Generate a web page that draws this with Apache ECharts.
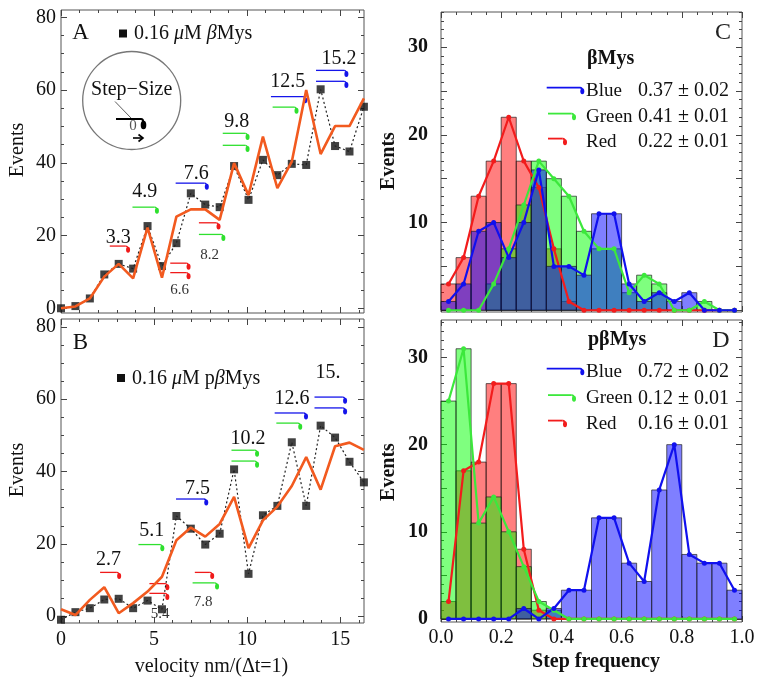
<!DOCTYPE html>
<html><head><meta charset="utf-8">
<script src="https://cdn.jsdelivr.net/npm/echarts@6/dist/echarts.min.js"></script>
<style>html,body{margin:0;padding:0;background:#fff}#c{width:759px;height:680px}</style>
</head><body><div id="c"></div><script>
// ---------- data ----------
const stepX = [0, 0.775, 1.55, 2.325, 3.1, 3.875, 4.65, 5.425, 6.2, 6.975, 7.75, 8.525, 9.3, 10.075, 10.85, 11.625, 12.4, 13.175, 13.95, 14.725, 15.5, 16.275];
const eventsA = [0, 0.6, 2.7, 9.3, 12.2, 10.9, 22.6, 11.6, 17.9, 31.6, 28.5, 27.8, 39.1, 29.8, 40.8, 36.6, 39.7, 39.4, 60.2, 44.6, 43.1, 55.4];
const fitA = [0, 0.5, 2.7, 8.7, 12.2, 8.2, 22.2, 8.4, 25.2, 27.2, 27.2, 24.3, 39.9, 31.1, 47.2, 33.0, 40.3, 60.0, 42.4, 50.1, 50.1, 57.7];
const eventsB = [-1.0, 1.1, 2.2, 4.6, 4.8, 2.2, 4.3, 1.9, 27.7, 24.2, 19.8, 22.8, 40.6, 11.7, 27.9, 30.5, 48.1, 30.5, 52.7, 49.4, 42.7, 37.0];
const fitB = [1.9, 0.3, 4.5, 8.0, 0.8, 3.6, 6.8, 10.9, 21.0, 24.5, 22.0, 25.5, 33.0, 18.8, 26.5, 30.3, 36.0, 44.0, 35.0, 47.0, 48.0, 46.0];

const binWidth = 0.05;
const binCenters = [0.025, 0.075, 0.125, 0.175, 0.225, 0.275, 0.325, 0.375, 0.425, 0.475, 0.525, 0.575, 0.625, 0.675, 0.725, 0.775, 0.825, 0.875, 0.925, 0.975];
const redC   = [3, 6, 13, 17, 22, 17, 14, 7, 1, 0, 0, 0, 0, 0, 0, 0, 0, 0, 0, 0];
const greenC = [0, 0, 0, 3, 7, 12, 17, 15, 13, 9, 7, 7, 2, 4, 3, 0, 0, 1, 0, 0];
const blueC  = [1, 3, 9, 10, 6, 10, 16, 5, 5, 4, 11, 11, 3, 1, 2, 1, 2, 0, 0, 0];
const redD   = [2, 17, 18, 27, 27, 8, 1, 0, 0, 0, 0, 0, 0, 0, 0, 0, 0, 0, 0, 0];
const greenD = [25, 31, 11, 14, 10, 6, 2, 1, 0, 0, 0, 0, 0, 0, 0, 0, 0, 0, 0, 0];
const blueD  = [0, 0, 0, 0, 0, 1.2, 0, 1.2, 3.3, 3.3, 11.6, 11.6, 6.4, 4.3, 14.8, 20, 7.4, 6.4, 6.4, 3.3];

// step markers [xStart, xEnd, y, colour]
const hooksA = [[2.62,3.48,17.1,'r'],[3.84,5.03,27.8,'g'],[5.87,6.73,12.4,'r'],[5.87,6.73,9.8,'r'],
  [6.16,7.71,34.4,'b'],[7.41,8.34,23.5,'r'],[7.41,8.6,20.3,'g'],[8.69,9.9,48.1,'g'],[8.69,9.9,44.8,'g'],
  [11.28,13.0,58.2,'b'],[11.37,12.53,55.3,'g'],[13.7,15.21,65.4,'b'],[13.7,15.21,62.4,'b']];
const hooksB = [[2.1,3.0,12.1,'r'],[4.16,5.32,19.8,'g'],[4.75,5.59,9.0,'r'],[4.75,5.59,6.3,'r'],
  [6.18,7.68,32.4,'b'],[7.19,8.0,12.1,'r'],[7.07,8.26,9.2,'g'],[9.16,10.41,45.9,'g'],[9.16,10.41,42.9,'g'],
  [11.48,13.04,56.2,'b'],[11.57,12.73,53.4,'g'],[13.62,15.14,60.6,'b'],[13.62,15.14,57.6,'b']];
// step labels [text, x, y, large?]
const stepLabelsA = [['3.3',3.07,19.5,1],['4.9',4.5,31.9,1],['6.6',6.37,5.0,0],['7.6',7.27,36.9,1],
  ['8.2',7.98,14.7,0],['9.8',9.44,51.3,1],['12.5',12.18,62.3,1],['15.2',14.94,68.5,1]];
const stepLabelsB = [['2.7',2.55,15.5,1],['5.1',4.87,23.6,1],['5.4',5.32,0.6,0],['7.5',7.34,35.3,1],
  ['7.8',7.64,4.0,0],['10.2',10.05,49.2,1],['12.6',12.41,60.0,1],['15.',14.34,67.2,1]];

const legendC = [['Blue','0.37 ± 0.02'],['Green','0.41 ± 0.01'],['Red','0.22 ± 0.01']];
const legendD = [['Blue','0.72 ± 0.02'],['Green','0.12 ± 0.01'],['Red','0.16 ± 0.01']];

// ticks
const velTicks = [0, 5, 10, 15];
const velMinor = [1,2,3,4,6,7,8,9,11,12,13,14,16];
const evTicks = [0, 20, 40, 60, 80];
const evMinor = [5,10,15,25,30,35,45,50,55,65,70,75];
const freqTicks = [0, 0.2, 0.4, 0.6, 0.8, 1.0];
const freqMinor = [0.05,0.1,0.15,0.25,0.3,0.35,0.45,0.5,0.55,0.65,0.7,0.75,0.85,0.9,0.95];
const histTicks = [0, 5, 10, 15, 20, 25, 30];
const histMinor = [1,2,3,4,6,7,8,9,11,12,13,14,16,17,18,19,21,22,23,24,26,27,28,29,31,32,33,34];
const histLabelsC = [10, 20, 30];
const histLabelsD = [0, 10, 20, 30];

// ---------- styling helpers ----------
const SERIF = '"Liberation Serif", "Times New Roman", serif';
const COL = {r: '#f01a1a', g: '#2ee02e', b: '#1414ea'};
const LINECOL = {r: '#f21c1c', g: '#3ce83c', b: '#1010ee'};

const xAxes = [], yAxes = [];
function addAxes(gi, xr, yr, o) {
  const ts = {color: '#444', width: 1};
  const mk = (pos, r, ticks, len, labels, lab) => ({
    gridIndex: gi, type: 'value', min: r[0], max: r[1], position: pos, silent: true,
    axisLine: {show: false, onZero: false}, splitLine: {show: false},
    axisTick: {show: true, inside: true, length: len, customValues: ticks, lineStyle: ts},
    axisLabel: labels ? Object.assign({show: true, customValues: labels, color: '#111', fontFamily: SERIF, fontSize: 20}, lab) : {show: false}
  });
  const xi = xAxes.length, yi = yAxes.length;
  xAxes.push(mk('bottom', xr, o.xMajor, 6, o.xLabels, o.xLab));
  xAxes.push(mk('bottom', xr, o.xMinor, 3));
  xAxes.push(mk('top', xr, o.xMajor, 6));
  xAxes.push(mk('top', xr, o.xMinor, 3));
  yAxes.push(mk('left', yr, o.yMajor, 6, o.yLabels, o.yLab));
  yAxes.push(mk('left', yr, o.yMinor, 3));
  yAxes.push(mk('right', yr, o.yMajor, 6));
  yAxes.push(mk('right', yr, o.yMinor, 3));
  return [xi, yi];
}

const axA = addAxes(0, [0, 16.28], [-1.3, 82], {xMajor: velTicks, xMinor: velMinor, yMajor: evTicks, yMinor: evMinor, yLabels: evTicks, yLab: {margin: 5}});
const axB = addAxes(1, [0, 16.28], [-1.9, 82.2], {xMajor: velTicks, xMinor: velMinor, yMajor: evTicks, yMinor: evMinor, yLabels: evTicks, yLab: {margin: 5}, xLabels: velTicks, xLab: {margin: 7}});
const axC = addAxes(2, [0, 1], [-0.2, 34], {xMajor: freqTicks, xMinor: freqMinor, yMajor: histTicks, yMinor: histMinor, yLabels: histLabelsC, yLab: {margin: 13, fontWeight: 'bold'}});
const axD = addAxes(3, [0, 1], [-0.35, 34.3], {xMajor: freqTicks, xMinor: freqMinor, yMajor: histTicks, yMinor: histMinor, yLabels: histLabelsD, yLab: {margin: 13, fontWeight: 'bold'}, xLabels: freqTicks, xLab: {margin: 6, formatter: v => Number(v).toFixed(1)}});

function hookShapes(x0, x1, y, col, lw) {
  return [
    {type: 'line', shape: {x1: x0, y1: y, x2: x1, y2: y}, style: {stroke: col, lineWidth: lw}},
    {type: 'bezierCurve', shape: {x1: x1, y1: y, x2: x1 + 2.3, y2: y + 3, cpx1: x1 + 2.2, cpy1: y}, style: {stroke: col, lineWidth: lw, fill: null}},
    {type: 'circle', x: x1 + 2.3, y: y + 3.6, scaleX: 2.0, scaleY: 3.0, shape: {cx: 0, cy: 0, r: 1}, style: {fill: col}}
  ];
}
function hookSeries(hooks, ax) {
  return {type: 'custom', xAxisIndex: ax[0], yAxisIndex: ax[1], silent: true, clip: false,
    data: hooks.map(h => [h[0], h[2]]),
    renderItem: (params, api) => {
      const h = hooks[params.dataIndex];
      const a = api.coord([h[0], h[2]]), b = api.coord([h[1], h[2]]);
      return {type: 'group', children: hookShapes(a[0], b[0], a[1], COL[h[3]], 1.3)};
    }};
}
function labelSeries(labels, ax) {
  return {type: 'custom', xAxisIndex: ax[0], yAxisIndex: ax[1], silent: true, clip: false,
    data: labels.map(l => [l[1], l[2]]),
    renderItem: (params, api) => {
      const l = labels[params.dataIndex];
      const p = api.coord([l[1], l[2]]);
      return {type: 'text', x: p[0], y: p[1], style: {text: l[0], fill: l[3] ? '#111' : '#333',
        font: (l[3] ? '20px ' : '15px ') + SERIF, align: 'center', verticalAlign: 'middle', textAlign: 'center', textVerticalAlign: 'middle'}};
    }};
}
function histSeries(vals, fill, ax) {
  return {type: 'custom', xAxisIndex: ax[0], yAxisIndex: ax[1], silent: true,
    data: binCenters.map((c, i) => [c, vals[i]]),
    renderItem: (params, api) => {
      const c = api.value(0), v = api.value(1);
      if (!(v > 0)) return null;
      const a = api.coord([c - binWidth / 2, v]), b = api.coord([c + binWidth / 2, 0]);
      return {type: 'rect', shape: {x: a[0], y: a[1], width: b[0] - a[0], height: b[1] - a[1]},
        style: {fill: fill, stroke: 'rgba(25,25,25,0.75)', lineWidth: 0.9}};
    }};
}
function polySeries(vals, col, ax) {
  return {type: 'line', xAxisIndex: ax[0], yAxisIndex: ax[1], silent: true,
    data: binCenters.map((c, i) => [c, vals[i]]),
    symbol: 'circle', symbolSize: 5, showSymbol: true, showAllSymbol: true,
    lineStyle: {color: col, width: 2.2}, itemStyle: {color: col}};
}
function panelSeries(xs, ev, fit, ax) {
  return [
    {type: 'line', xAxisIndex: ax[0], yAxisIndex: ax[1], silent: true, symbol: 'none',
      data: xs.map((x, i) => [x, ev[i]]), lineStyle: {color: '#222', width: 1.2, type: [2, 2.5]}},
    {type: 'line', xAxisIndex: ax[0], yAxisIndex: ax[1], silent: true, symbol: 'none',
      data: xs.map((x, i) => [x, fit[i]]), lineStyle: {color: '#f25a1f', width: 2.6}},
    {type: 'scatter', xAxisIndex: ax[0], yAxisIndex: ax[1], silent: true, symbol: 'rect', symbolSize: 8, clip: true,
      data: xs.map((x, i) => [x, ev[i]]), itemStyle: {color: '#111'}}
  ];
}

// ---------- graphic decorations ----------
const graphic = [];
function txt(t, x, y, font, opts) {
  graphic.push(Object.assign({type: 'text', x: x, y: y, silent: true,
    style: Object.assign({text: t, font: font, fill: '#111', align: 'center', verticalAlign: 'middle', textAlign: 'center', textVerticalAlign: 'middle'}, (opts && opts.style) || {})},
    (opts && opts.el) || {}));
}
const F20 = '20px ' + SERIF, B20 = 'bold 20px ' + SERIF;
txt('A', 80.5, 33, '23px ' + SERIF);
txt('B', 80.5, 343, '23px ' + SERIF);
txt('C', 723, 33, '24px ' + SERIF, {style: {fill: '#222'}});
txt('D', 721, 341, '24px ' + SERIF, {style: {fill: '#222'}});
// legends A / B
graphic.push({type: 'rect', shape: {x: 119, y: 29.5, width: 8, height: 8}, style: {fill: '#111'}, silent: true});
graphic.push({type: 'rect', shape: {x: 117, y: 374, width: 8, height: 8}, style: {fill: '#111'}, silent: true});
const richI = {i: {fontStyle: 'italic', fontFamily: SERIF, fontSize: 20, fill: '#111'}};
txt('0.16 {i|μ}M {i|β}Mys', 134, 34, F20, {style: {align: 'left', textAlign: 'left', rich: richI}});
txt('0.16 {i|μ}M p{i|β}Mys', 132, 378.5, F20, {style: {align: 'left', textAlign: 'left', rich: richI}});
// inset circle
graphic.push({type: 'circle', shape: {cx: 131.7, cy: 100.5, r: 49}, style: {fill: null, stroke: '#777', lineWidth: 1.3}, silent: true});
txt('Step−Size', 131.7, 90, F20);
graphic.push({type: 'line', shape: {x1: 115, y1: 101.5, x2: 131, y2: 118}, style: {stroke: '#333', lineWidth: 0.8}, silent: true});
graphic.push({type: 'group', silent: true, children: hookShapes(116, 141, 119, '#000', 2).map(s => {
  if (s.type === 'circle') { s.x = 143.5; s.y = 125; s.scaleX = 2.8; s.scaleY = 4.3; } return s; })});
txt('0', 133, 126, '15px ' + SERIF, {style: {fill: '#555'}});
graphic.push({type: 'line', shape: {x1: 133, y1: 138, x2: 142, y2: 138}, style: {stroke: '#000', lineWidth: 1.6}, silent: true});
graphic.push({type: 'polyline', shape: {points: [[138.5, 134.5], [143, 138], [138.5, 141.5]]}, style: {stroke: '#000', lineWidth: 1.6, fill: null}, silent: true});
// axis titles
txt('Events', 18, 150, F20, {el: {rotation: Math.PI / 2}});
txt('Events', 18, 470, F20, {el: {rotation: Math.PI / 2}});
txt('velocity nm/(Δt=1)', 211.5, 667, F20);
txt('Events', 389, 161, B20, {el: {rotation: Math.PI / 2}});
txt('Events', 389, 472, B20, {el: {rotation: Math.PI / 2}});
txt('Step frequency', 596, 662, B20);
// C / D legends
txt('βMys', 587, 59, B20, {style: {align: 'left', textAlign: 'left'}});
txt('pβMys', 588, 340, B20, {style: {align: 'left', textAlign: 'left'}});
const legKeys = ['b', 'g', 'r'];
const legStart = [546.7, 548, 548];
const legEnd = [580, 571.7, 562.7];
function legendBlock(rows, ys) {
  rows.forEach((row, i) => {
    const y = ys[i];
    graphic.push({type: 'group', silent: true, children: hookShapes(legStart[i], legEnd[i], y - 3.4, LINECOL[legKeys[i]], 1.8)});
    txt(row[0], 586, y, '19px ' + SERIF, {style: {align: 'left', textAlign: 'left'}});
    txt(row[1], 638, y, F20, {style: {align: 'left', textAlign: 'left'}});
  });
}
legendBlock(legendC, [91, 117, 142]);
legendBlock(legendD, [372, 398.5, 424]);

// ---------- option ----------
const gridBase = {show: true, borderColor: '#555', borderWidth: 1, backgroundColor: 'transparent', containLabel: false};
const option = {
  backgroundColor: '#fff',
  animation: false,
  grid: [
    Object.assign({left: 61, top: 10, width: 303, height: 303}, gridBase),
    Object.assign({left: 61, top: 319, width: 303, height: 304}, gridBase),
    Object.assign({left: 441, top: 12, width: 301, height: 300}, gridBase),
    Object.assign({left: 441, top: 320, width: 301, height: 302}, gridBase)
  ],
  xAxis: xAxes,
  yAxis: yAxes,
  graphic: graphic,
  series: [].concat(
    panelSeries(stepX, eventsA, fitA, axA),
    [hookSeries(hooksA, axA), labelSeries(stepLabelsA, axA)],
    panelSeries(stepX, eventsB, fitB, axB),
    [hookSeries(hooksB, axB), labelSeries(stepLabelsB, axB)],
    [histSeries(redC, 'rgba(255,0,0,0.5)', axC), histSeries(greenC, 'rgba(0,255,0,0.5)', axC), histSeries(blueC, 'rgba(0,0,255,0.5)', axC),
     polySeries(redC, LINECOL.r, axC), polySeries(greenC, LINECOL.g, axC), polySeries(blueC, LINECOL.b, axC)],
    [histSeries(redD, 'rgba(255,0,0,0.5)', axD), histSeries(greenD, 'rgba(0,255,0,0.5)', axD), histSeries(blueD, 'rgba(0,0,255,0.5)', axD),
     polySeries(redD, LINECOL.r, axD), polySeries(greenD, LINECOL.g, axD), polySeries(blueD, LINECOL.b, axD)]
  )
};
const chart = echarts.init(document.getElementById('c'), null, {renderer: 'canvas'});
chart.setOption(option);
</script></body></html>
